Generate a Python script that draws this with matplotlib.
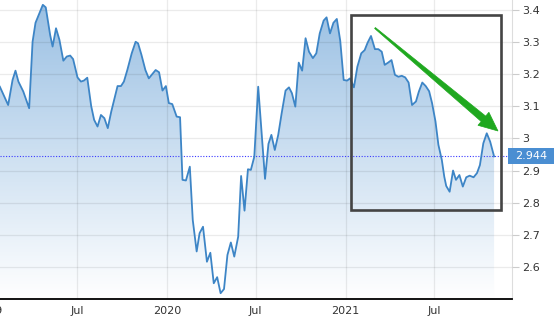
import matplotlib
matplotlib.use('Agg')
import matplotlib.pyplot as plt
import matplotlib.dates as mdates
import matplotlib.transforms as mtransforms
from matplotlib.patches import Rectangle, Polygon
import numpy as np
import pandas as pd

# weekly readings, 2019-2021
dates_2019 = ['2019-01-24', '2019-02-10', '2019-02-19', '2019-02-25', '2019-03-03', '2019-03-13',
              '2019-03-25', '2019-04-01', '2019-04-07', '2019-04-22', '2019-04-28', '2019-05-07',
              '2019-05-12', '2019-05-19', '2019-05-26', '2019-06-03', '2019-06-10', '2019-06-17',
              '2019-06-23', '2019-07-02', '2019-07-09', '2019-07-15', '2019-07-22', '2019-07-30',
              '2019-08-05', '2019-08-12', '2019-08-19', '2019-08-26', '2019-09-02', '2019-09-09',
              '2019-09-15', '2019-09-22', '2019-09-29', '2019-10-05', '2019-10-12', '2019-10-21',
              '2019-10-29', '2019-11-03', '2019-11-10', '2019-11-18', '2019-11-25', '2019-12-09',
              '2019-12-16', '2019-12-23', '2019-12-30']
values_2019 = [3.161, 3.104, 3.182, 3.211, 3.177, 3.146, 3.094, 3.301, 3.360, 3.416, 3.408, 3.322,
               3.286, 3.343, 3.307, 3.242, 3.255, 3.258, 3.247, 3.190, 3.177, 3.180, 3.189, 3.101,
               3.058, 3.037, 3.073, 3.063, 3.032, 3.083, 3.120, 3.163, 3.163, 3.177, 3.213, 3.265,
               3.301, 3.296, 3.260, 3.213, 3.187, 3.213, 3.206, 3.149, 3.163]

dates_2020 = ['2020-01-05', '2020-01-12', '2020-01-21', '2020-01-28', '2020-02-02', '2020-02-09',
              '2020-02-17', '2020-02-23', '2020-03-02', '2020-03-08', '2020-03-15', '2020-03-23',
              '2020-03-30', '2020-04-06', '2020-04-13', '2020-04-20', '2020-04-27', '2020-05-04',
              '2020-05-11', '2020-05-18', '2020-05-26', '2020-06-01', '2020-06-08', '2020-06-15',
              '2020-06-21', '2020-06-28', '2020-07-06', '2020-07-13', '2020-07-20', '2020-07-27',
              '2020-08-02', '2020-08-09', '2020-08-16', '2020-08-23', '2020-08-31', '2020-09-07',
              '2020-09-13', '2020-09-20', '2020-09-27', '2020-10-04', '2020-10-11', '2020-10-18',
              '2020-10-26', '2020-11-02', '2020-11-09', '2020-11-17', '2020-11-23', '2020-11-30',
              '2020-12-07', '2020-12-14', '2020-12-21', '2020-12-28']
values_2020 = [3.110, 3.107, 3.068, 3.066, 2.871, 2.869, 2.912, 2.746, 2.648, 2.705, 2.725, 2.616,
               2.644, 2.549, 2.568, 2.518, 2.531, 2.637, 2.676, 2.632, 2.694, 2.883, 2.775, 2.904,
               2.902, 2.943, 3.161, 3.016, 2.874, 2.983, 3.011, 2.964, 3.011, 3.078, 3.149, 3.159,
               3.141, 3.099, 3.236, 3.211, 3.312, 3.270, 3.250, 3.265, 3.327, 3.367, 3.377, 3.327,
               3.360, 3.372, 3.304, 3.182]

dates_2021 = ['2021-01-04', '2021-01-10', '2021-01-18', '2021-01-25', '2021-02-02', '2021-02-09',
              '2021-02-15', '2021-02-22', '2021-03-02', '2021-03-09', '2021-03-16', '2021-03-22',
              '2021-03-29', '2021-04-05', '2021-04-12', '2021-04-19', '2021-04-26', '2021-05-03',
              '2021-05-10', '2021-05-17', '2021-05-25', '2021-05-31', '2021-06-07', '2021-06-14',
              '2021-06-21', '2021-06-27', '2021-07-04', '2021-07-10', '2021-07-17', '2021-07-22',
              '2021-07-26', '2021-08-02', '2021-08-09', '2021-08-15', '2021-08-22', '2021-08-29',
              '2021-09-05', '2021-09-12', '2021-09-20', '2021-09-27', '2021-10-03', '2021-10-10',
              '2021-10-17', '2021-10-24', '2021-11-01']
values_2021 = [3.180, 3.187, 3.159, 3.223, 3.265, 3.275, 3.298, 3.319, 3.278, 3.278, 3.270, 3.229,
               3.236, 3.244, 3.198, 3.192, 3.195, 3.190, 3.174, 3.104, 3.115, 3.146, 3.174, 3.163,
               3.147, 3.110, 3.053, 2.980, 2.933, 2.881, 2.852, 2.834, 2.900, 2.871, 2.886, 2.850,
               2.879, 2.884, 2.879, 2.892, 2.917, 2.985, 3.016, 2.990, 2.944]

x_ticks = ['2019-07-01', '2020-01-01', '2020-07-01', '2021-01-01', '2021-07-01']
x_tick_labels = ['Jul', '2020', 'Jul', '2021', 'Jul']
y_ticks = [2.6, 2.7, 2.8, 2.9, 3.0, 3.1, 3.2, 3.3, 3.4]
last_value = 2.944

dates = pd.to_datetime(dates_2019 + dates_2020 + dates_2021)
values = np.array(values_2019 + values_2020 + values_2021)
xd = mdates.date2num(dates)

W, H = 554, 320
fig = plt.figure(figsize=(W / 100, H / 100), dpi=100)
ax = fig.add_axes([0, 21 / H, 512 / W, 299 / H])

x0 = mdates.date2num(pd.Timestamp('2019-07-01')) - 157.7
x1 = mdates.date2num(pd.Timestamp('2019-07-01')) + 890.7
y0, y1 = 2.5, 3.431
ax.set_xlim(x0, x1)
ax.set_ylim(y0, y1)

# gradient fill under the line
poly = ax.fill_between(xd, values, y0, facecolor='none', edgecolor='none')
grad = np.linspace(0, 1, 256).reshape(-1, 1)
top = np.array([0.60, 0.75, 0.89])
bot = np.array([1.0, 1.0, 1.0])
img = (top + (bot - top) * grad).reshape(256, 1, 3)
im = ax.imshow(img, extent=[x0, x1, y0, y1], aspect='auto', origin='upper', zorder=1)
im.set_clip_path(poly.get_paths()[0], transform=ax.transData)

ax.plot(xd, values, color='#3d85c6', lw=1.3, zorder=4)

ax.axhline(last_value, color='#3a3aff', lw=0.8, ls=(0, (1, 1.5)), zorder=3, clip_on=False)

# axes styling
for s in ['top', 'left']:
    ax.spines[s].set_visible(False)
ax.spines['bottom'].set_color('black')
ax.spines['bottom'].set_linewidth(1.3)
ax.spines['right'].set_color('#dddddd')
ax.spines['right'].set_linewidth(0.8)

ax.yaxis.tick_right()
ax.set_yticks(y_ticks)
ax.yaxis.set_major_formatter(plt.FuncFormatter(lambda v, p: '%g' % round(v, 1)))
ax.tick_params(axis='y', length=5, color='#cccccc', labelcolor='#333333', labelsize=8, pad=2)
ax.set_xticks(mdates.date2num(pd.to_datetime(x_ticks)))
ax.set_xticklabels(x_tick_labels)
ax.tick_params(axis='x', length=0, labelcolor='#333333', labelsize=8, pad=5)
ax.grid(True, color='black', alpha=0.08, lw=0.9, zorder=2)
ax.set_axisbelow(False)

# clipped 2019 label at the left edge
fig.canvas.draw()
yl = ax.get_xticklabels()[0].get_window_extent()
blend = mtransforms.blended_transform_factory(ax.transData, ax.transAxes)
ax.text(mdates.date2num(pd.Timestamp('2019-01-01')),
        ax.transAxes.inverted().transform((0, yl.y1))[1], '2019', transform=blend,
        ha='center', va='top', fontsize=8, color='#333333', clip_on=False)

# last value label
bl = mtransforms.blended_transform_factory(fig.transFigure, ax.transData)
h = 16 / 321.25
fig.patches.append(Rectangle((508 / W, last_value - h / 2), 46 / W, h, transform=bl,
                             facecolor='#4a8ed2', edgecolor='none', zorder=5))
fig.text(531 / W, last_value, '%.3f' % last_value, transform=bl, ha='center', va='center',
         fontsize=8, color='white', zorder=6)

# highlight box
ax.add_patch(Rectangle((351 / 512, 1 - 210 / 299), 150 / 512, 195 / 299, transform=ax.transAxes,
                       fill=False, edgecolor='#444444', lw=1.9, zorder=6, clip_on=False))

# green tapered arrow (pixel geometry, y up)
S = np.array([375.0, H - 28.0])
T = np.array([498.0, H - 131.0])
u = (T - S) / np.linalg.norm(T - S)
n = np.array([-u[1], u[0]])
B = T - u * 19
pts = [S + n * 0.6, B + n * 3.5, B + n * 8.5, T, B - n * 8.5, B - n * 3.5, S - n * 0.6]
pts = [(p[0] / W, p[1] / H) for p in pts]
fig.patches.append(Polygon(pts, closed=True, transform=fig.transFigure,
                           facecolor='#1fa81f', edgecolor='#1fa81f', lw=0.5, zorder=7))

fig.savefig('out.png', dpi=100)
